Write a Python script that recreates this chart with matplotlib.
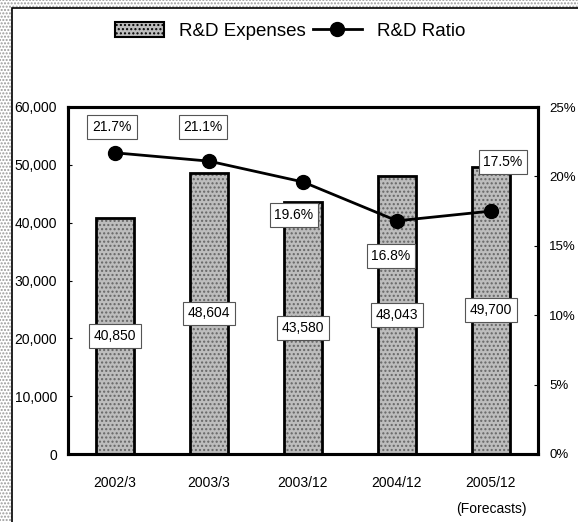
import matplotlib
matplotlib.use('Agg')
from matplotlib import pyplot as plt
from matplotlib.patches import Rectangle, Patch
from matplotlib.lines import Line2D

# dados
periods = ['2002/3', '2003/3', '2003/12', '2004/12', '2005/12\n(Forecasts)']
expenses = [40850, 48604, 43580, 48043, 49700]
ratio = [21.7, 21.1, 19.6, 16.8, 17.5]
expense_labels = ['40,850', '48,604', '43,580', '48,043', '49,700']
ratio_labels = ['21.7%', '21.1%', '19.6%', '16.8%', '17.5%']
left_ticks = [0, 10000, 20000, 30000, 40000, 50000, 60000]
right_ticks = [0, 5, 10, 15, 20, 25]

# deslocamento (pixels) das caixas de porcentagem em relação ao ponto
ratio_offsets = [(-3, 26), (-6, 34), (-9, -33), (-6, -35), (12, 49)]

plt.rcParams['font.family'] = ['Liberation Sans', 'DejaVu Sans']

fig = plt.figure(figsize=(5.78, 5.22), dpi=100)
W, H = 578, 522

# fundo pontilhado da digitalização e moldura do gráfico
fig.patches.append(Rectangle((0, 0), 1, 1, transform=fig.transFigure,
                             facecolor='white', edgecolor='#9a9a9a', hatch='.....',
                             linewidth=0, zorder=-10))
fig.patches.append(Rectangle((12 / W, -0.01), 1.0, 1 - 8 / H + 0.01,
                             transform=fig.transFigure, facecolor='white',
                             edgecolor='black', linewidth=1.2, zorder=-9))

ax = fig.add_axes([68 / W, 1 - 454 / H, 470 / W, 347 / H])
ax2 = ax.twinx()

x = list(range(len(periods)))

bars = ax.bar(x, expenses, width=0.4, color='#bdbdbd', edgecolor='black',
              linewidth=2, hatch='....', zorder=2)
for b in bars:
    b._hatch_color = (0.4, 0.4, 0.4, 1.0)

for xi, v, lab in zip(x, expenses, expense_labels):
    ax.text(xi, v / 2, lab, ha='center', va='center', fontsize=10, zorder=5,
            bbox=dict(boxstyle='square,pad=0.35', facecolor='white',
                      edgecolor='#555555', linewidth=0.8))

ax.set_xlim(-0.5, 4.5)
ax.set_ylim(0, 60000)
ax.set_yticks(left_ticks)
ax.set_yticklabels([f'{t:,}' for t in left_ticks], fontsize=10)
ax.set_xticks(x)
ax.set_xticklabels(periods, fontsize=10, linespacing=2.1, va='top')
ax.tick_params(axis='x', length=0, pad=16)
ax.tick_params(axis='y', direction='in', length=3, pad=8)
for s in ax.spines.values():
    s.set_linewidth(2.2)

ax2.plot(x, ratio, color='black', linewidth=2, marker='o', markersize=10, zorder=4)
for xi, r, lab, off in zip(x, ratio, ratio_labels, ratio_offsets):
    ax2.annotate(lab, (xi, r), xytext=off, textcoords='offset pixels',
                 ha='center', va='center', fontsize=10, zorder=6,
                 bbox=dict(boxstyle='square,pad=0.35', facecolor='white',
                           edgecolor='#555555', linewidth=0.8))
ax2.set_ylim(0, 25)
ax2.set_yticks(right_ticks)
ax2.set_yticklabels([f'{t}%' for t in right_ticks], fontsize=9.5)
ax2.tick_params(axis='y', direction='in', length=3, pad=8)
ax2.set_xlim(-0.5, 4.5)
for s in ax2.spines.values():
    s.set_linewidth(2.2)

# legenda no topo
h_bar = Patch(facecolor='#bdbdbd', edgecolor='black', hatch='....', linewidth=1.5)
h_line = Line2D([], [], color='black', linewidth=2, marker='o', markersize=10)
fig.legend([h_bar, h_line], ['R&D Expenses', 'R&D Ratio'], loc='center',
           bbox_to_anchor=(290 / W, 1 - 31 / H), ncol=2, frameon=False,
           fontsize=13.5, handlelength=2.6, handleheight=0.9, columnspacing=0.4,
           handletextpad=0.8)

fig.savefig('out.png', dpi=100)
